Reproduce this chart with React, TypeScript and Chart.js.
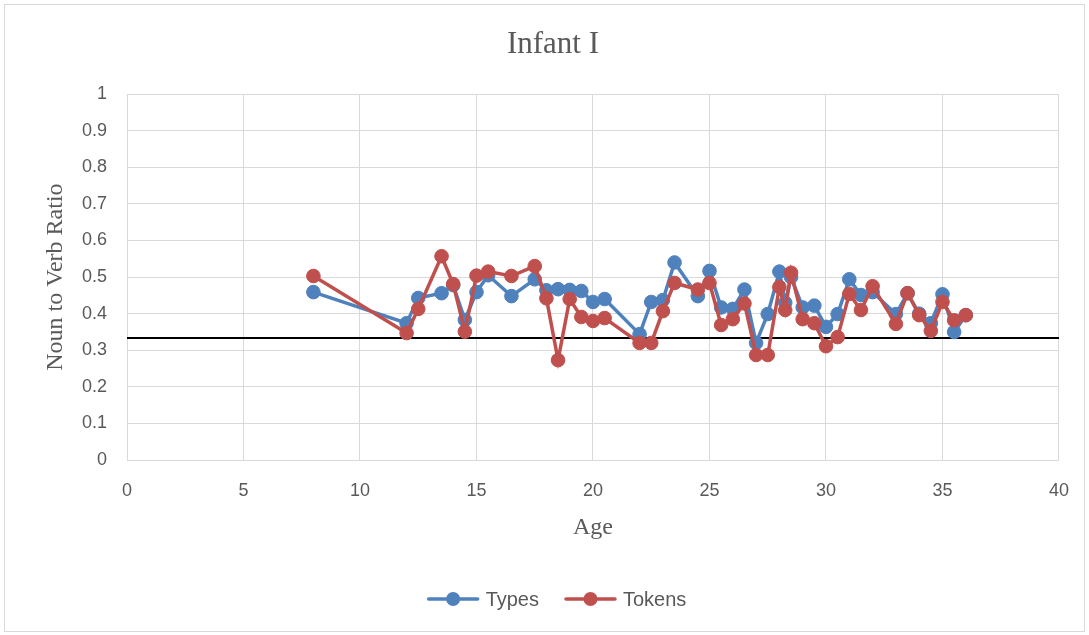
import React, { useEffect, useRef } from "react";
import { Chart, registerables } from "chart.js";

Chart.register(...registerables);

// ---- data ----
const chartTitle = "Infant I";
const xAxisTitle = "Age";
const yAxisTitle = "Noun to Verb Ratio";
const seriesNames = ["Types", "Tokens"];

const ages = [
  8, 12, 12.5, 13.5, 14, 14.5, 15, 15.5, 16.5, 17.5,
  18, 18.5, 19, 19.5, 20, 20.5, 22, 22.5, 23, 23.5,
  24.5, 25, 25.5, 26, 26.5, 27, 27.5, 28, 28.25, 28.5,
  29, 29.5, 30, 30.5, 31, 31.5, 32, 33, 33.5, 34,
  34.5, 35, 35.5, 36,
];

const typesValues = [
  0.459, 0.374, 0.443, 0.456, 0.478, 0.383, 0.459, 0.505, 0.448, 0.494,
  0.464, 0.467, 0.465, 0.462, 0.432, 0.44, 0.344, 0.432, 0.437, 0.54,
  0.448, 0.517, 0.417, 0.413, 0.466, 0.32, 0.399, 0.515, 0.43, 0.5,
  0.417, 0.422, 0.364, 0.399, 0.494, 0.451, 0.459, 0.399, 0.456, 0.4,
  0.374, 0.453, 0.35, 0.396,
];

const tokensValues = [
  0.503, 0.347, 0.413, 0.557, 0.481, 0.351, 0.504, 0.515, 0.503, 0.53,
  0.442, 0.273, 0.44, 0.391, 0.38, 0.388, 0.32, 0.32, 0.407, 0.484,
  0.466, 0.484, 0.369, 0.385, 0.428, 0.287, 0.287, 0.473, 0.41, 0.512,
  0.385, 0.374, 0.311, 0.336, 0.454, 0.41, 0.475, 0.372, 0.456, 0.396,
  0.353, 0.432, 0.382, 0.396,
];

const referenceLevel = 1 / 3;
const xMin = 0;
const xMax = 40;
const xStep = 5;
const yMin = 0;
const yMax = 1;
const yStep = 0.1;

// ---- styles ----
const BLUE = "#4F81BD";
const RED = "#C0504D";
const TEXT = "#595959";
const GRID = "#d9d9d9";
const SERIF = '"Liberation Serif", "Times New Roman", serif';
const SANS = '"Liberation Sans", Arial, sans-serif';

const backgroundPlugin = {
  id: "bgBorder",
  beforeDraw(chart: any) {
    const ctx = chart.ctx;
    ctx.save();
    ctx.fillStyle = "#ffffff";
    ctx.fillRect(0, 0, chart.width, chart.height);
    ctx.strokeStyle = GRID;
    ctx.lineWidth = 1;
    ctx.strokeRect(4.5, 4.5, chart.width - 9, chart.height - 8);
    ctx.restore();
  },
};

const legendPlugin = {
  id: "lineMarkerLegend",
  afterDraw(chart: any) {
    const ctx = chart.ctx;
    const items = chart.data.datasets.filter((d: any) => d.showInLegend !== false);
    ctx.save();
    ctx.font = `20px ${SANS}`;
    const lineLen = 53;
    const gapText = 6;
    const gapItem = 25;
    const widths = items.map((d: any) => lineLen + gapText + ctx.measureText(d.label).width);
    const total = widths.reduce((a: number, b: number) => a + b, 0) + gapItem * (items.length - 1);
    let x = chart.width / 2 + 12 - total / 2;
    const y = 599;
    items.forEach((d: any, i: number) => {
      ctx.strokeStyle = d.borderColor;
      ctx.lineWidth = 3.5;
      ctx.lineCap = "round";
      ctx.beginPath();
      ctx.moveTo(x + 2, y);
      ctx.lineTo(x + lineLen - 2, y);
      ctx.stroke();
      ctx.fillStyle = d.borderColor;
      ctx.beginPath();
      ctx.arc(x + lineLen / 2, y, 7, 0, Math.PI * 2);
      ctx.fill();
      ctx.fillStyle = TEXT;
      ctx.textBaseline = "middle";
      ctx.textAlign = "left";
      ctx.fillText(d.label, x + lineLen + gapText, y + 1);
      x += widths[i] + gapItem;
    });
    ctx.restore();
  },
};

export default function App() {
  const ref = useRef<HTMLCanvasElement>(null);

  useEffect(() => {
    const canvas = ref.current;
    if (!canvas) return;
    const seriesStyle = (color: string) => ({
      borderColor: color,
      backgroundColor: color,
      borderWidth: 3.5,
      pointRadius: 6.8,
      pointBorderWidth: 1,
      pointBorderColor: color,
      pointBackgroundColor: color,
      tension: 0,
    });
    const chart = new Chart(canvas, {
      type: "line",
      data: {
        datasets: [
          {
            label: seriesNames[0],
            data: ages.map((a, i) => ({ x: a, y: typesValues[i] })),
            ...seriesStyle(BLUE),
            order: 2,
          } as any,
          {
            label: seriesNames[1],
            data: ages.map((a, i) => ({ x: a, y: tokensValues[i] })),
            ...seriesStyle(RED),
            order: 1,
          } as any,
          {
            label: "reference",
            data: [
              { x: xMin, y: referenceLevel },
              { x: xMax, y: referenceLevel },
            ],
            borderColor: "#000000",
            backgroundColor: "#000000",
            borderWidth: 2,
            pointRadius: 0,
            order: 3,
            showInLegend: false,
          } as any,
        ],
      },
      options: {
        responsive: false,
        animation: false,
        layout: { padding: { left: 47, right: 30, top: 0, bottom: 80 } },
        scales: {
          x: {
            type: "linear",
            min: xMin,
            max: xMax,
            ticks: {
              stepSize: xStep,
              padding: 20,
              color: TEXT,
              font: { family: SANS, size: 18 },
            },
            grid: { color: GRID, lineWidth: 1, drawTicks: false },
            border: { color: GRID },
            title: {
              display: true,
              text: xAxisTitle,
              color: TEXT,
              font: { family: SERIF, size: 24 },
              padding: { top: 0, bottom: 13 },
            },
            afterFit: (s: any) => {
              s.height = 95;
            },
          },
          y: {
            type: "linear",
            min: yMin,
            max: yMax,
            ticks: {
              stepSize: yStep,
              padding: 20,
              color: TEXT,
              font: { family: SANS, size: 18 },
              callback: (v: any) => String(Math.round(Number(v) * 10) / 10),
            },
            grid: { color: GRID, lineWidth: 1, drawTicks: false },
            border: { color: GRID },
            title: {
              display: true,
              text: yAxisTitle,
              color: TEXT,
              font: { family: SERIF, size: 24 },
              padding: { top: -6, bottom: 0 },
            },
            afterFit: (s: any) => {
              s.width = 80;
            },
          },
        },
        plugins: {
          legend: { display: false },
          tooltip: { enabled: false },
          title: {
            display: true,
            text: chartTitle,
            color: TEXT,
            font: { family: SERIF, size: 31, weight: "normal" },
            padding: { top: 26, bottom: 31 },
          },
        },
      },
      plugins: [backgroundPlugin, legendPlugin],
    });
    return () => chart.destroy();
  }, []);

  return (
    <div style={{ position: "fixed", left: 0, top: 0, width: 1089, height: 635 }}>
      <canvas ref={ref} width={1089} height={635} style={{ display: "block" }} />
    </div>
  );
}
